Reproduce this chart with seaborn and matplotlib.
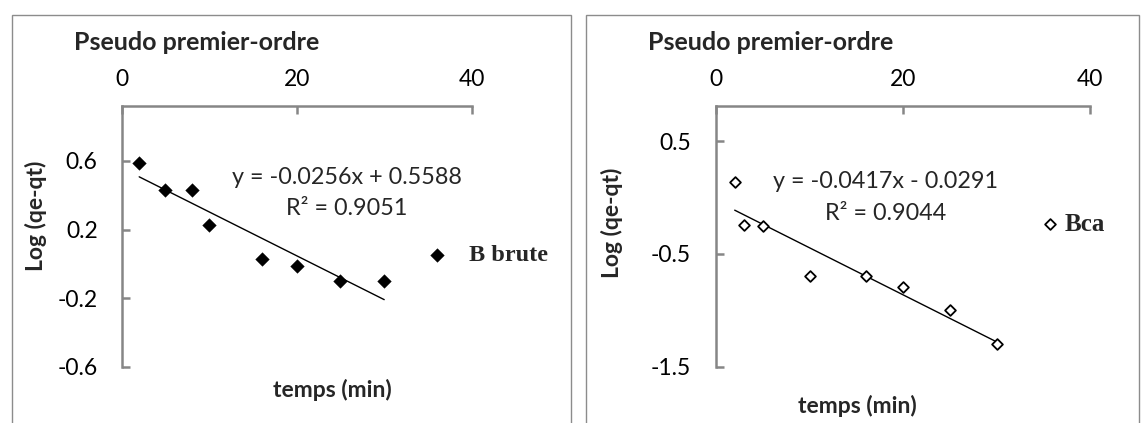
import numpy as np
import pandas as pd
import matplotlib
matplotlib.use("Agg")
import matplotlib.pyplot as plt
import seaborn as sns
from matplotlib.patches import Rectangle

# ---------------- data ----------------
t_brute = [2, 5, 8, 10, 16, 20, 25, 30]
log_brute = [0.587, 0.433, 0.433, 0.229, 0.028, -0.013, -0.099, -0.099]
t_bca = [2, 3, 5, 10, 16, 20, 25, 30]
log_bca = [0.134, -0.241, -0.256, -0.695, -0.695, -0.792, -0.996, -1.296]

# trend lines as printed on the chart: slope, intercept, R²
fit_brute = (-0.0256, 0.5588, 0.9051)
fit_bca = (-0.0417, -0.0291, 0.9044)

title = "Pseudo premier-ordre"
xlabel = "temps (min)"
ylabel = "Log (qe-qt)"
series_names = ["B brute", "Bca"]
xticks = [0, 20, 40]
yticks_brute = [-0.6, -0.2, 0.2, 0.6]
yticks_bca = [-1.5, -0.5, 0.5]

# ---------------- style ----------------
sns.set_theme(style="white")
plt.rcParams["font.family"] = ["Lato", "DejaVu Sans"]
plt.rcParams["axes.unicode_minus"] = False

W, H = 1144, 423
fig = plt.figure(figsize=(W / 100, H / 100), dpi=100)
fig.patch.set_facecolor("white")

GRAY = "#868686"
TICKFS = 16.5

# panel borders (extend below the figure)
for x0, x1 in [(12, 571), (586, 1139)]:
    fig.add_artist(Rectangle((x0 / W, -0.2), (x1 - x0) / W, 0.2 + 1 - 15 / H,
                             transform=fig.transFigure, fill=False,
                             edgecolor="#8c8c8c", linewidth=1.0, clip_on=False))

ax_b = fig.add_axes([121.7 / W, 1 - 366.6 / H, 350 / W, 260.1 / H])
ax_c = fig.add_axes([716 / W, 1 - 366.6 / H, 374 / W, 260.1 / H])


def style_axes(ax, ylim, yticks, ypad):
    ax.set_facecolor("none")
    ax.set_xlim(0, 40)
    ax.set_ylim(*ylim)
    for s in ["right", "bottom"]:
        ax.spines[s].set_visible(False)
    for s in ["top", "left"]:
        ax.spines[s].set_visible(True)
        ax.spines[s].set_color(GRAY)
        ax.spines[s].set_linewidth(1.8)
    ax.xaxis.tick_top()
    ax.set_xticks(xticks)
    ax.set_xticklabels([str(v) for v in xticks])
    ax.set_yticks(yticks)
    ax.set_yticklabels([f"{v:g}" for v in yticks])
    ax.tick_params(axis="x", top=True, bottom=False, labeltop=True,
                   labelbottom=False, direction="in", length=5.5, width=1.8,
                   color=GRAY, pad=12, labelsize=TICKFS, labelcolor="black")
    ax.tick_params(axis="y", left=True, right=False, direction="in",
                   length=5.5, width=1.8, color=GRAY, pad=ypad,
                   labelsize=TICKFS, labelcolor="black")
    ax.grid(False)


def draw(ax, t, y, fit, name, filled):
    df = pd.DataFrame({"t": t, "y": y})
    if filled:
        sns.scatterplot(data=df, x="t", y="y", ax=ax, marker="D", s=48,
                        color="black", edgecolor="black", linewidth=0.3,
                        label=name, zorder=3)
    else:
        sns.scatterplot(data=df, x="t", y="y", ax=ax, marker="D", s=30,
                        facecolor="white", edgecolor="black", linewidth=1.3,
                        label=name, zorder=3)
    slope, inter, r2 = fit
    xs = np.array([min(t), max(t)], dtype=float)
    sns.lineplot(x=xs, y=slope * xs + inter, ax=ax, color="black",
                 linewidth=1.0, zorder=2)
    sign = "+" if inter >= 0 else "-"
    return f"y = {slope:.4f}x {sign} {abs(inter):.4f}\nR² = {r2:.4f}"


style_axes(ax_b, (-0.6, 0.918), yticks_brute, 17.3)
style_axes(ax_c, (-1.5, 0.807), yticks_bca, 18)

eq_b = draw(ax_b, t_brute, log_brute, fit_brute, series_names[0], True)
eq_c = draw(ax_c, t_bca, log_bca, fit_bca, series_names[1], False)

ax_b.text(0.6423, 0.6663, eq_b, transform=ax_b.transAxes, ha="center",
          va="center", fontsize=16.8, linespacing=1.6, multialignment="center")
ax_c.text(0.4529, 0.650, eq_c, transform=ax_c.transAxes, ha="center",
          va="center", fontsize=16.8, linespacing=1.6, multialignment="center")

# titles
for ax, xf in [(ax_b, (73.8 - 121.7) / 350), (ax_c, (648.3 - 716) / 374)]:
    t_obj = ax.set_title(title, loc="left", y=(366.6 - 43) / 260.1, pad=0,
                         fontsize=18, fontweight="bold", va="center")
    t_obj.set_x(xf)

# axis labels
ax_b.set_xlabel(xlabel, fontsize=16.5, fontweight="bold", va="center")
ax_b.xaxis.set_label_coords((332.6 - 121.7) / 350, (366.6 - 390) / 260.1)
ax_c.set_xlabel(xlabel, fontsize=16.5, fontweight="bold", va="center")
ax_c.xaxis.set_label_coords((857 - 716) / 374, (366.6 - 406) / 260.1)

ax_b.set_ylabel(ylabel, fontsize=16.5, fontweight="bold", va="center")
ax_b.yaxis.set_label_coords((36 - 121.7) / 350, (366.6 - 216) / 260.1)
ax_c.set_ylabel(ylabel, fontsize=16.5, fontweight="bold", va="center")
ax_c.yaxis.set_label_coords((612.4 - 716) / 374, (366.6 - 223) / 260.1)

# legends
leg_prop = {"family": "Liberation Serif", "weight": "bold", "size": 17.5}
ax_b.legend(loc="center left", bbox_to_anchor=(425.3 / W, 1 - 255 / H),
            bbox_transform=fig.transFigure, frameon=False, prop=leg_prop,
            borderpad=0, borderaxespad=0, handlelength=1.0, handletextpad=0.8)
leg_prop_c = dict(leg_prop, size=18)
ax_c.legend(loc="center left", bbox_to_anchor=(1044.2 / W, 1 - 224 / H),
            bbox_transform=fig.transFigure, frameon=False, prop=leg_prop_c,
            borderpad=0, borderaxespad=0, handlelength=0.5, handletextpad=0.3)

fig.savefig("out.png", dpi=100, facecolor="white")
